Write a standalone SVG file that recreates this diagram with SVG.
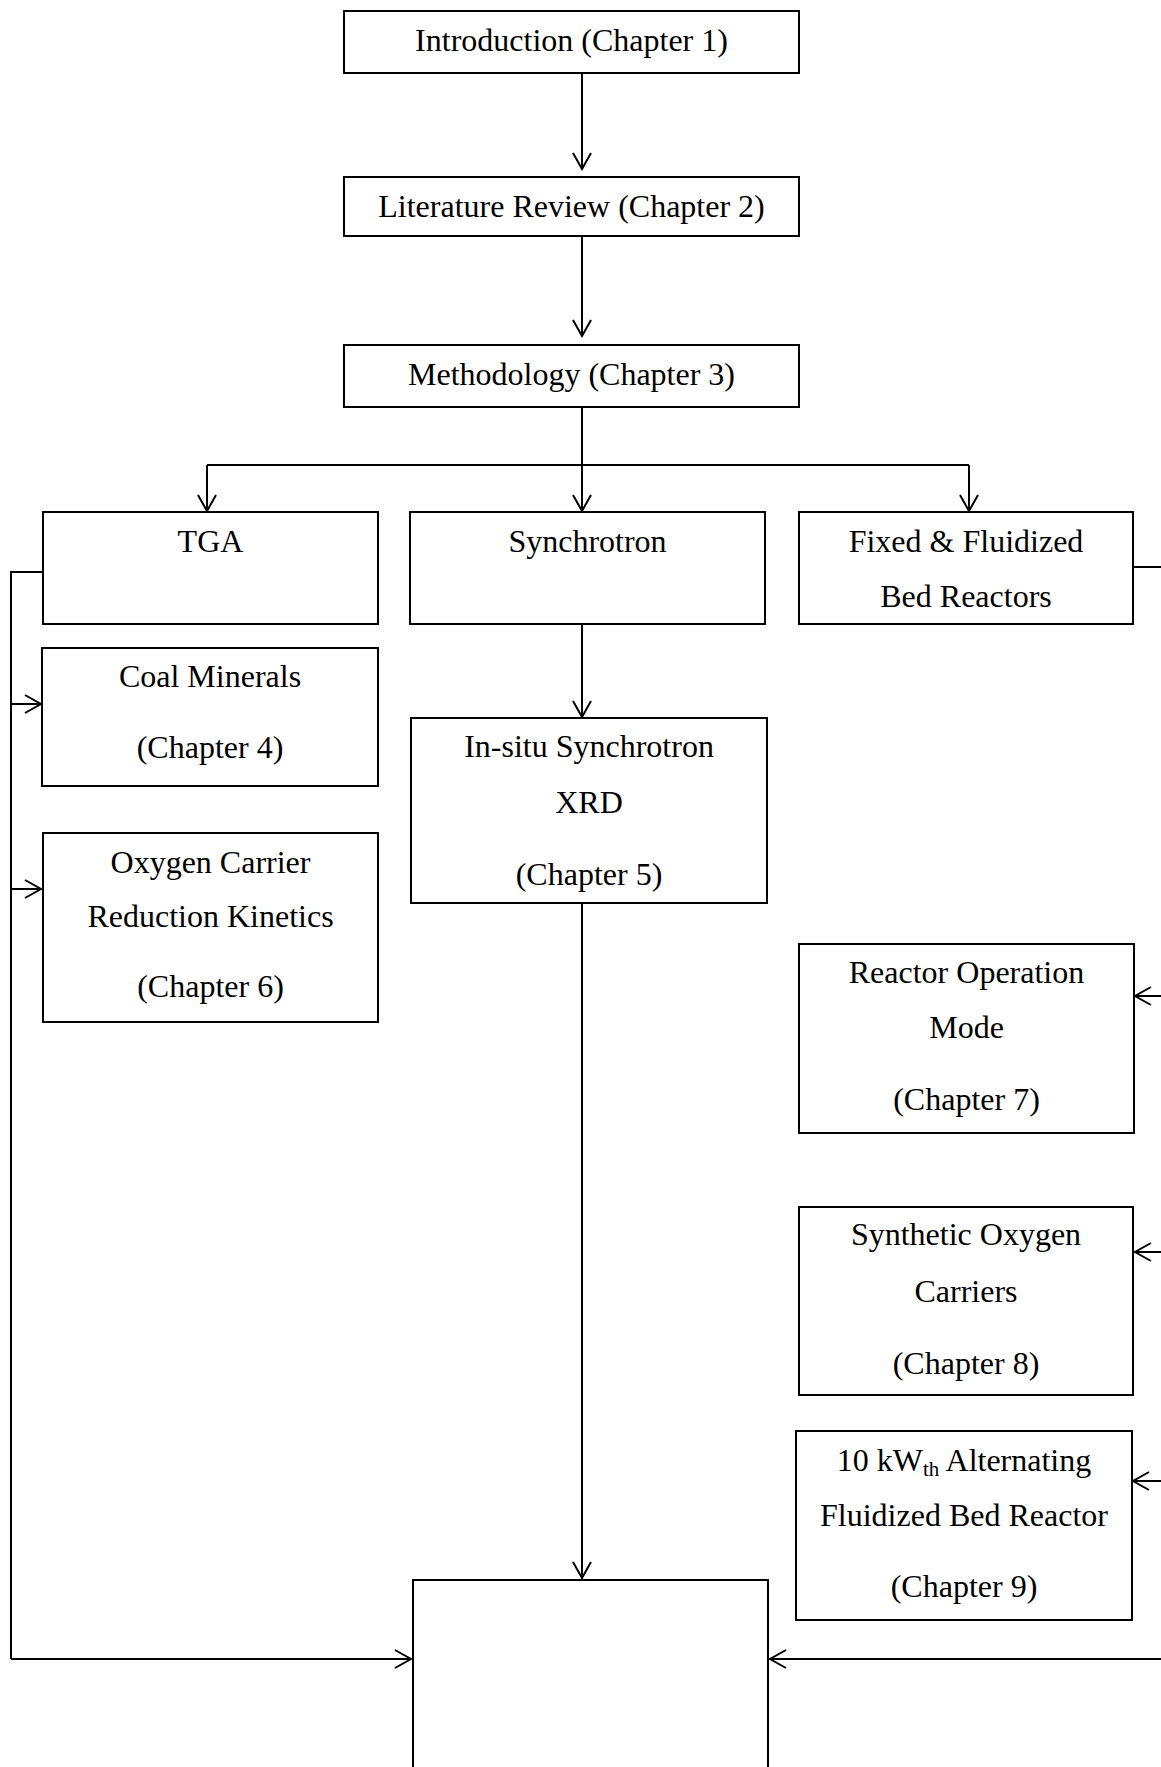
<svg xmlns="http://www.w3.org/2000/svg" width="1161" height="1767" viewBox="0 0 1161 1767">
<style>
.box{fill:#fff;stroke:#000;stroke-width:2}
.t{font-family:"Liberation Serif","Times New Roman",serif;font-size:32px;fill:#000;text-anchor:middle}
.c{fill:none;stroke:#000;stroke-width:2}
.a{marker-end:url(#arr)}
</style>
<defs>
<marker id="arr" markerUnits="userSpaceOnUse" markerWidth="20" markerHeight="22" viewBox="-18 -11 20 22" refX="0" refY="0" orient="auto">
<path d="M-16,-9 L0,0 L-16,9" fill="none" stroke="#000" stroke-width="2"/>
</marker>
</defs>
<rect width="1161" height="1767" fill="#fff"/>
<g id="connectors">
<path class="c a" d="M582,73 V169"/>
<path class="c a" d="M582,236 V336"/>
<path class="c" d="M582,407 V465"/>
<path class="c" d="M207,465 H969"/>
<path class="c a" d="M207,465 V511"/>
<path class="c a" d="M582,465 V511"/>
<path class="c a" d="M969,465 V511"/>
<path class="c a" d="M582,625 V717"/>
<path class="c a" d="M582,904 V1578"/>
<path class="c" d="M43,572 H11 V1659"/>
<path class="c a" d="M11,704 H41"/>
<path class="c a" d="M11,889 H41"/>
<path class="c a" d="M11,1659 H411"/>
<path class="c" d="M1133,567 H1161"/>
<path class="c a" d="M1161,996 H1135"/>
<path class="c a" d="M1161,1252 H1135"/>
<path class="c a" d="M1161,1481 H1133"/>
<path class="c a" d="M1161,1659 H770"/>
</g>
<g id="intro"><rect class="box" x="344" y="11" width="455" height="62"/><text class="t" x="571.5" y="51">Introduction (Chapter 1)</text></g>
<g id="litreview"><rect class="box" x="344" y="177" width="455" height="59"/><text class="t" x="571.5" y="217">Literature Review (Chapter 2)</text></g>
<g id="methodology"><rect class="box" x="344" y="345" width="455" height="62"/><text class="t" x="571.5" y="385">Methodology (Chapter 3)</text></g>
<g id="tga"><rect class="box" x="43" y="512" width="335" height="112"/><text class="t" x="210.5" y="552">TGA</text></g>
<g id="synchrotron"><rect class="box" x="410" y="512" width="355" height="112"/><text class="t" x="587.5" y="552">Synchrotron</text></g>
<g id="fixedbed"><rect class="box" x="799" y="512" width="334" height="112"/><text class="t" x="966" y="552">Fixed &amp; Fluidized</text><text class="t" x="966" y="607">Bed Reactors</text></g>
<g id="coal"><rect class="box" x="42" y="648" width="336" height="138"/><text class="t" x="210" y="687">Coal Minerals</text><text class="t" x="210" y="758">(Chapter 4)</text></g>
<g id="insitu"><rect class="box" x="411" y="718" width="356" height="185"/><text class="t" x="589" y="757">In-situ Synchrotron</text><text class="t" x="589" y="813">XRD</text><text class="t" x="589" y="885">(Chapter 5)</text></g>
<g id="oxygen"><rect class="box" x="43" y="833" width="335" height="189"/><text class="t" x="210.5" y="873">Oxygen Carrier</text><text class="t" x="210.5" y="927">Reduction Kinetics</text><text class="t" x="210.5" y="997">(Chapter 6)</text></g>
<g id="reactormode"><rect class="box" x="799" y="944" width="335" height="189"/><text class="t" x="966.5" y="983">Reactor Operation</text><text class="t" x="966.5" y="1038">Mode</text><text class="t" x="966.5" y="1110">(Chapter 7)</text></g>
<g id="synthetic"><rect class="box" x="799" y="1207" width="334" height="188"/><text class="t" x="966" y="1245">Synthetic Oxygen</text><text class="t" x="966" y="1302">Carriers</text><text class="t" x="966" y="1374">(Chapter 8)</text></g>
<g id="kwth"><rect class="box" x="796" y="1431" width="336" height="189"/><text class="t" x="964" y="1471">10 kW<tspan font-size="21" dy="5">th</tspan><tspan dy="-5"> Alternating</tspan></text><text class="t" x="964" y="1526">Fluidized Bed Reactor</text><text class="t" x="964" y="1597">(Chapter 9)</text></g>
<g id="conclusion"><rect class="box" x="413" y="1580" width="355" height="200"/></g>
</svg>
